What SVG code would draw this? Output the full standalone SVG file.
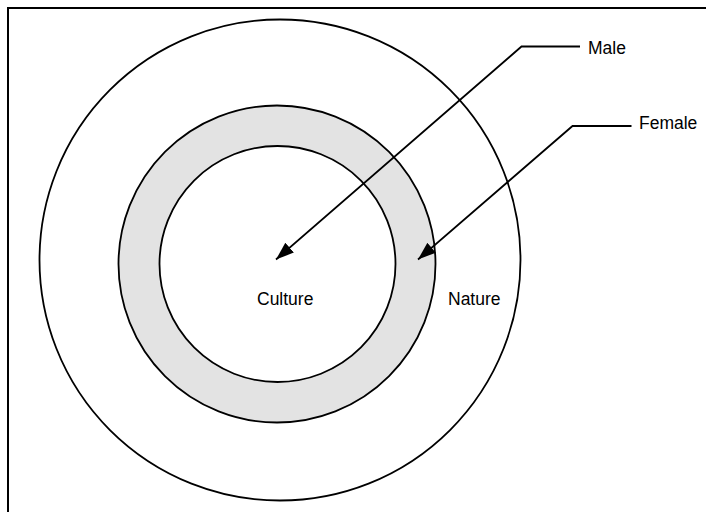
<svg xmlns="http://www.w3.org/2000/svg" width="706" height="512" viewBox="0 0 706 512">
<defs>
<style>
.ring{stroke:#000;stroke-width:1.8}
.lbl{font-family:"Liberation Sans",Arial,sans-serif;font-size:17.5px;fill:#000}
.conn{fill:none;stroke:#000;stroke-width:1.8}
</style>
<marker id="ah" markerUnits="userSpaceOnUse" markerWidth="20" markerHeight="14" refX="18" refY="6.5" orient="auto">
<path d="M0,0 L18,6.5 L0,13 z" fill="#000"/>
</marker>
</defs>
<rect x="0" y="0" width="706" height="512" fill="#fff"/>
<rect x="8" y="8" width="702" height="510" fill="none" stroke="#000" stroke-width="2"/>
<g id="nature">
<circle class="ring" cx="280" cy="260" r="240.5" fill="#fff"/>
<text class="lbl" x="448" y="305">Nature</text>
</g>
<g id="female-ring">
<circle class="ring" cx="277" cy="264" r="158.5" fill="#e3e3e3"/>
</g>
<g id="culture">
<circle class="ring" cx="277.5" cy="264" r="118" fill="#fff"/>
<text class="lbl" x="257" y="305">Culture</text>
</g>
<g id="male-label">
<text class="lbl" x="588" y="54">Male</text>
</g>
<g id="female-label">
<text class="lbl" x="639" y="128.5">Female</text>
</g>
<g id="connectors">
<polyline class="conn" points="580,46.5 521.5,46.5 276,259.5" marker-end="url(#ah)"/>
<polyline class="conn" points="631.5,126 572.5,126 418,259.5" marker-end="url(#ah)"/>
</g>
</svg>
